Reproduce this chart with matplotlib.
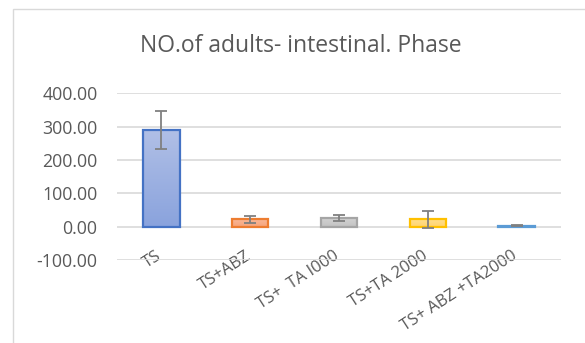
import numpy as np
import matplotlib
matplotlib.use("Agg")
import matplotlib.pyplot as plt
from matplotlib.colors import LinearSegmentedColormap
from matplotlib.patches import Rectangle
from matplotlib.transforms import ScaledTranslation

# values
groups = ["TS", "TS+ABZ", "TS+  TA I000", "TS+TA 2000", "TS+ ABZ +TA2000"]
means = [290, 22, 25, 22, 3]
errors = [57, 10, 9, 25, 2]
y_ticks = [-100, 0, 100, 200, 300, 400]

edge_colors = ["#4472c4", "#ed7d31", "#a5a5a5", "#ffc000", "#5b9bd5"]
fill_top = ["#b0bfe6", "#f9b998", "#d2d2d2", "#ffdf8f", "#b6d2ee"]
fill_bottom = ["#8aa3dd", "#f6a27a", "#c2c2c2", "#ffd46e", "#9cc1e6"]

text_color = "#595959"
grid_color = "#d9d9d9"

plt.rcParams["font.family"] = ["Open Sans", "DejaVu Sans"]

fig = plt.figure(figsize=(5.85, 3.43), dpi=100)
ax = fig.add_axes([117 / 585, 1 - 260 / 343, (561 - 117) / 585, (260 - 93.3) / 343])

x = np.arange(len(groups))
bars = ax.bar(x, means, width=0.41, color="none", edgecolor=edge_colors,
              linewidth=1.6, zorder=3)

# gradient fill clipped to each bar
for bar, c_top, c_bot in zip(bars, fill_top, fill_bottom):
    cmap = LinearSegmentedColormap.from_list("g", [c_bot, c_top])
    x0, y0 = bar.get_x(), bar.get_y()
    w, h = bar.get_width(), bar.get_height()
    grad = np.linspace(0, 1, 64).reshape(-1, 1)
    im = ax.imshow(grad, cmap=cmap, origin="lower", aspect="auto",
                   extent=[x0, x0 + w, y0, y0 + h], zorder=2)
    im.set_clip_path(bar)

ax.errorbar(x, means, yerr=errors, fmt="none", ecolor="#808080",
            elinewidth=1.3, capsize=4.5, capthick=1.3, zorder=4)

ax.set_xlim(-0.5, len(groups) - 0.5)
ax.set_ylim(-100, 400)
ax.set_yticks(y_ticks)
ax.set_yticklabels([f"{v:.2f}" for v in y_ticks])
ax.set_xticks(x)
ax.set_xticklabels(groups, rotation=33, ha="right", va="center",
                   rotation_mode="anchor")

ax.tick_params(axis="both", length=0, colors=text_color)
ax.tick_params(axis="y", pad=14, labelsize=12.8)
ax.tick_params(axis="x", pad=-4, labelsize=12)
shift = ScaledTranslation(-0.01, 0, fig.dpi_scale_trans)
for lbl in ax.get_xticklabels():
    lbl.set_transform(lbl.get_transform() + shift)
for spine in ax.spines.values():
    spine.set_visible(False)
ax.grid(axis="y", color=grid_color, linewidth=1.2, zorder=0)
ax.set_axisbelow(True)

fig.text(301 / 585, 1 - 45.5 / 343, "NO.of adults- intestinal. Phase",
         ha="center", va="center", fontsize=16.5, color=text_color)

# chart area border (runs off the right and bottom edges)
fig.patches.append(Rectangle((13 / 585, -0.1), 1.2, 1.1 - 9 / 343,
                             transform=fig.transFigure, fill=False,
                             edgecolor=grid_color, linewidth=1.0))

fig.savefig("out.png", dpi=100, facecolor="white")
